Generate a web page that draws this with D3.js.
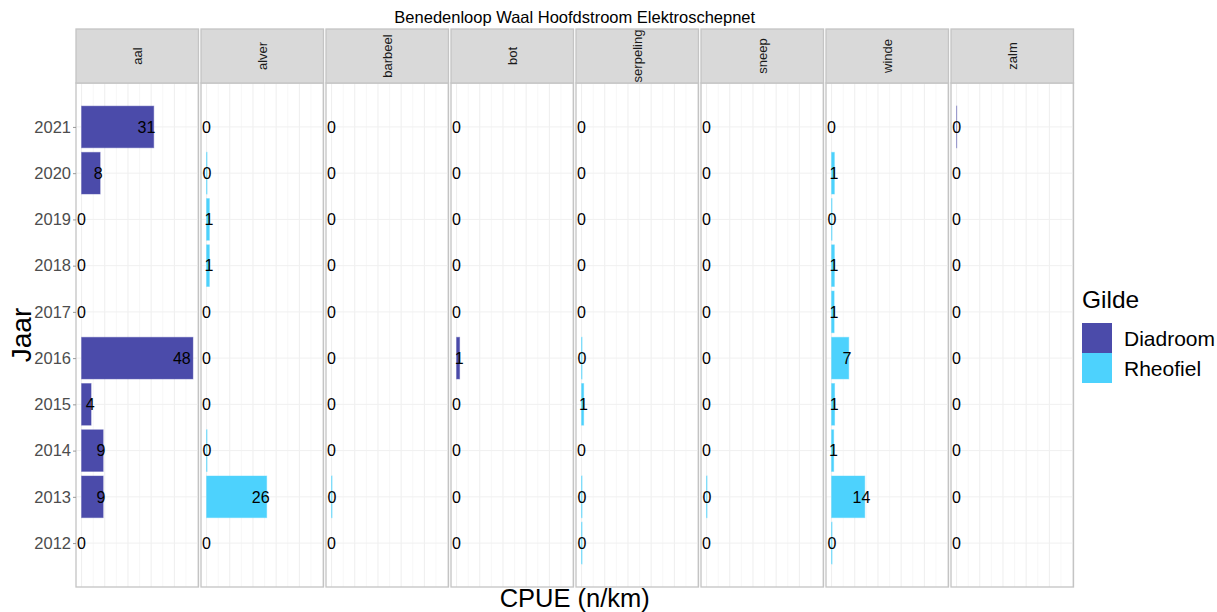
<!DOCTYPE html>
<html>
<head>
<meta charset="utf-8">
<script src="https://cdn.jsdelivr.net/npm/d3@7"></script>
<style>
  html, body { margin: 0; padding: 0; background: #fff; }
  svg { display: block; font-family: "Liberation Sans", Arial, sans-serif; }
</style>
</head>
<body>
<svg id="chart" width="1217" height="612"></svg>
<script>
// ---- Data ----
const years = [2012, 2013, 2014, 2015, 2016, 2017, 2018, 2019, 2020, 2021];
const species = ["aal", "alver", "barbeel", "bot", "serpeling", "sneep", "winde", "zalm"];
const speciesGilde = ["Diadroom", "Rheofiel", "Rheofiel", "Diadroom", "Rheofiel", "Rheofiel", "Rheofiel", "Diadroom"];
const gildes = ["Diadroom", "Rheofiel"];
// CPUE per species, ordered as years (2012 ... 2021)
const aal       = [0,   9.3,  9.3, 4.1, 48.0, 0,   0,   0,   8.0, 31.1];
const alver     = [0,  25.9,  0.2, 0,    0,   0,   1.2, 1.2, 0.2, 0];
const barbeel   = [0,   0.2,  0,   0,    0,   0,   0,   0,   0,   0];
const bot       = [0,   0,    0,   0,    1.3, 0,   0,   0,   0,   0];
const serpeling = [0.2, 0.2,  0,   0.9,  0.2, 0,   0,   0,   0,   0];
const sneep     = [0,   0.2,  0,   0,    0,   0,   0,   0,   0,   0];
const winde     = [0.2, 14.3, 0.9, 1.3,  7.4, 1.1, 1.2, 0.2, 1.2, 0];
const zalm      = [0,   0,    0,   0,    0,   0,   0,   0,   0,   0.06];
const seriesValues = [aal, alver, barbeel, bot, serpeling, sneep, winde, zalm];

const title = "Benedenloop Waal Hoofdstroom Elektroschepnet";
const xTitle = "CPUE (n/km)";
const yTitle = "Jaar";
const legendTitle = "Gilde";

// ---- Layout ----
const colors = d3.scaleOrdinal().domain(gildes).range(["#4B4BAA", "#4DD2FD"]);
const panelX0 = 76, panelW = 122.5, panelStep = 125;
const stripTop = 29, panelTop = 83, panelBottom = 587;

const svg = d3.select("#chart");

const maxV = d3.max(seriesValues.flat());
const pad = maxV * 0.05;
const x = d3.scaleLinear().domain([-pad, maxV + pad]).range([0, panelW]);
const y = d3.scalePoint().domain(years.slice().reverse()).range([panelTop, panelBottom]).padding(0.95);
const bandH = y.step() * 0.9;

// Title
svg.append("text")
  .attr("x", panelX0 + (panelStep * (species.length - 1) + panelW) / 2)
  .attr("y", 23)
  .attr("text-anchor", "middle")
  .attr("font-size", 16.5)
  .attr("fill", "#000")
  .text(title);

species.forEach((sp, i) => {
  const g = svg.append("g").attr("transform", `translate(${panelX0 + i * panelStep},0)`);
  g.append("rect").attr("x", 0).attr("y", panelTop).attr("width", panelW).attr("height", panelBottom - panelTop)
    .attr("fill", "#fff");
  const minor = d3.range(5, maxV + pad, 10);
  g.selectAll(".vminor").data(minor).join("line")
    .attr("x1", d => x(d)).attr("x2", d => x(d))
    .attr("y1", panelTop).attr("y2", panelBottom)
    .attr("stroke", "#F5F5F5").attr("stroke-width", 0.8);
  const major = x.ticks(5).filter(d => d >= 0);
  g.selectAll(".vmajor").data(major).join("line")
    .attr("x1", d => x(d)).attr("x2", d => x(d))
    .attr("y1", panelTop).attr("y2", panelBottom)
    .attr("stroke", "#EEEEEE").attr("stroke-width", 1);
  g.selectAll(".hmajor").data(years).join("line")
    .attr("x1", 0).attr("x2", panelW)
    .attr("y1", d => y(d)).attr("y2", d => y(d))
    .attr("stroke", "#F0F0F0").attr("stroke-width", 1);

  const vals = seriesValues[i];
  const col = colors(speciesGilde[i]);
  const data = years.map((yr, k) => ({ year: yr, v: vals[k] }));
  g.selectAll(".bar").data(data.filter(d => d.v > 0)).join("rect")
    .attr("x", x(0))
    .attr("y", d => y(d.year) - bandH / 2)
    .attr("width", d => x(d.v) - x(0))
    .attr("height", bandH)
    .attr("fill", col)
    .attr("stroke", col)
    .attr("stroke-opacity", 0.45)
    .attr("stroke-width", 1);
  g.selectAll(".lab").data(data).join("text")
    .attr("x", d => x(d.v * 0.9))
    .attr("y", d => y(d.year))
    .attr("dy", "0.36em")
    .attr("text-anchor", "middle")
    .attr("font-size", 16)
    .attr("fill", "#000")
    .text(d => Math.round(d.v));

  g.append("rect").attr("x", 0).attr("y", panelTop).attr("width", panelW).attr("height", panelBottom - panelTop)
    .attr("fill", "none").attr("stroke", "#C4C4C4").attr("stroke-width", 1.3);
  g.append("rect").attr("x", 0).attr("y", stripTop).attr("width", panelW).attr("height", panelTop - stripTop)
    .attr("fill", "#D9D9D9").attr("stroke", "#C4C4C4").attr("stroke-width", 1.3);
  g.append("text")
    .attr("transform", `translate(${panelW / 2},${(stripTop + panelTop) / 2}) rotate(-90)`)
    .attr("text-anchor", "middle")
    .attr("dy", "0.35em")
    .attr("font-size", 13)
    .attr("fill", "#1A1A1A")
    .text(sp);
});

// Y axis
const yAxis = d3.axisLeft(y).tickSize(3).tickPadding(2);
const ya = svg.append("g").attr("transform", `translate(${panelX0},0)`).call(yAxis);
ya.select(".domain").remove();
ya.selectAll(".tick line").attr("stroke", "#999").attr("stroke-width", 1);
ya.selectAll(".tick text").attr("font-size", 16.5).attr("fill", "#4D4D4D")
  .attr("font-family", "Liberation Sans, Arial, sans-serif");

// Axis titles
svg.append("text")
  .attr("transform", `translate(31,${(panelTop + panelBottom) / 2}) rotate(-90)`)
  .attr("text-anchor", "middle")
  .attr("font-size", 28)
  .attr("fill", "#000")
  .text(yTitle);
svg.append("text")
  .attr("x", panelX0 + (panelStep * (species.length - 1) + panelW) / 2)
  .attr("y", 607)
  .attr("text-anchor", "middle")
  .attr("font-size", 25.5)
  .attr("fill", "#000")
  .text(xTitle);

// Legend
const lg = svg.append("g").attr("transform", "translate(1082,0)");
lg.append("text").attr("x", 0).attr("y", 308).attr("font-size", 24.5).attr("fill", "#000").text(legendTitle);
gildes.forEach((gd, k) => {
  lg.append("rect").attr("x", 0).attr("y", 323 + k * 30).attr("width", 30).attr("height", 30)
    .attr("fill", colors(gd));
  lg.append("text").attr("x", 42).attr("y", 338 + k * 30).attr("dy", "0.36em")
    .attr("font-size", 21).attr("fill", "#000").text(gd);
});
</script>
</body>
</html>
